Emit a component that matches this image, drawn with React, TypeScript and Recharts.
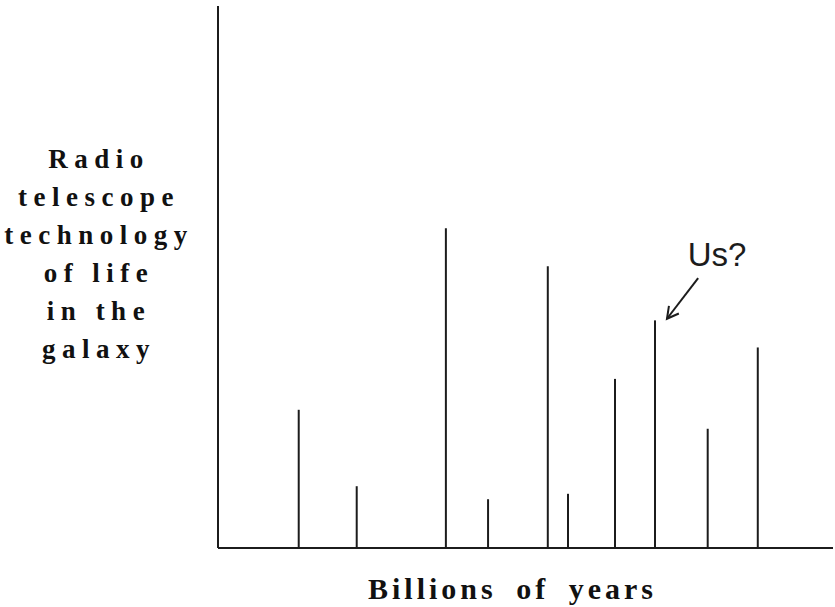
import { Bar, BarChart, ReferenceDot, ReferenceLine, XAxis, YAxis } from "recharts";

// positions along the time axis (billions of years) and peak heights
const years = [1.84, 3.16, 5.19, 6.15, 7.51, 7.97, 9.04, 9.95, 11.15, 12.29];
const levels = [25.5, 11.4, 59, 9, 52, 10, 31.2, 42, 22, 37];

const yLabelLines = ["Radio", "telescope", "technology", "of life", "in the", "galaxy"];
const xLabel = "Billions of years";
const noteText = "Us?";

const data = years.map((x, i) => ({ x, v: levels[i] }));

const INK = "#1c1c1c";
const serif = "'Liberation Serif', 'Times New Roman', serif";

function Arrow(props: any) {
  const { x1, y1, x2, y2 } = props;
  const ang = Math.atan2(y2 - y1, x2 - x1);
  const len = 13;
  const spread = 0.5;
  const a1 = ang + Math.PI - spread;
  const a2 = ang + Math.PI + spread;
  return (
    <g stroke={INK} strokeWidth={2} fill="none">
      <line x1={x1} y1={y1} x2={x2} y2={y2} />
      <polyline
        points={`${x2 + len * Math.cos(a1)},${y2 + len * Math.sin(a1)} ${x2},${y2} ${x2 + len * Math.cos(a2)},${y2 + len * Math.sin(a2)}`}
      />
    </g>
  );
}

export default function App() {
  return (
    <div style={{ position: "absolute", left: 0, top: 0, width: 835, height: 607, background: "#fff" }}>
      <BarChart
        width={835}
        height={607}
        data={data}
        margin={{ top: 6, right: 2, left: 218, bottom: 59 }}
      >
        <XAxis dataKey="x" type="number" domain={[0, 14]} hide />
        <YAxis type="number" domain={[0, 100]} hide />
        <ReferenceLine x={0} stroke={INK} strokeWidth={2} />
        <ReferenceLine y={0} stroke={INK} strokeWidth={2} />
        <Bar dataKey="v" fill={INK} barSize={2} isAnimationActive={false} />
        <ReferenceLine
          segment={[
            { x: 10.93, y: 49.8 },
            { x: 10.22, y: 42.3 },
          ]}
          shape={Arrow}
        />
        <ReferenceDot
          x={11.36}
          y={52}
          r={0}
          shape={(p: any) => (
            <text
              x={p.cx}
              y={p.cy}
              textAnchor="middle"
              fontFamily="'Liberation Sans', Arial, sans-serif"
              fontSize={33}
              fill={INK}
            >
              {noteText}
            </text>
          )}
        />
      </BarChart>

      <div
        style={{
          position: "absolute",
          left: 0,
          top: 140,
          width: 198,
          textAlign: "center",
          fontFamily: serif,
          fontWeight: "bold",
          fontSize: 27,
          lineHeight: "38px",
          letterSpacing: 6.5,
          color: "#111",
        }}
      >
        {yLabelLines.map((l) => (
          <div key={l}>{l}</div>
        ))}
      </div>

      <div
        style={{
          position: "absolute",
          left: 368,
          top: 572,
          fontFamily: serif,
          fontWeight: "bold",
          fontSize: 30,
          letterSpacing: 4,
          wordSpacing: 8,
          whiteSpace: "pre",
          color: "#111",
        }}
      >
        {xLabel}
      </div>
    </div>
  );
}
